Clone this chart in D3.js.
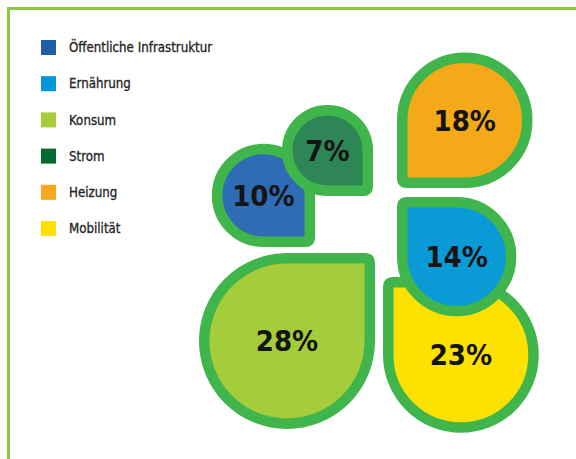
<!DOCTYPE html>
<html>
<head>
<meta charset="utf-8">
<script src="https://cdn.jsdelivr.net/npm/d3@7"></script>
<style>
    body { margin: 0; background: #ffffff; }
    #chart-area { width: 576px; height: 459px; overflow: hidden; }
    .legend-label { font-family: "DejaVu Sans Condensed", "DejaVu Sans", sans-serif; font-size: 13.2px; fill: #262626; stroke: #262626; stroke-width: 0.3px; }
    .drop-label { font-family: "DejaVu Sans Condensed", "DejaVu Sans", sans-serif; font-weight: bold; font-size: 29px; fill: #141414; }
</style>
</head>
<body>
<div id="chart-area"></div>
<script>

// Data
var categories = ["Öffentliche Infrastruktur", "Ernährung", "Konsum", "Strom", "Heizung", "Mobilität"];
var shares = [10, 14, 28, 7, 18, 23];

// order in which the drops are drawn (later ones sit on top)
var drawOrder = ["Öffentliche Infrastruktur", "Strom", "Heizung", "Mobilität", "Ernährung", "Konsum"];

// layout: where each drop puts its square corner, and which way that corner points
var cornerSlots = {
    "Öffentliche Infrastruktur": { x: 315, y: 247, sx: 1, sy: 1 },
    "Strom":                     { x: 373, y: 196, sx: 1, sy: 1 },
    "Heizung":                   { x: 397, y: 188, sx: -1, sy: 1 },
    "Ernährung":                 { x: 397, y: 197, sx: -1, sy: -1 },
    "Konsum":                    { x: 375, y: 253, sx: 1, sy: -1 },
    "Mobilität":                 { x: 383, y: 277, sx: -1, sy: -1 }
};


DropVis = function(_parentElement){
    this.parentElement = _parentElement;
    this.initVis();
}

DropVis.prototype.initVis = function(){
    var vis = this;

    vis.width = 576;
    vis.height = 459;

    vis.svg = d3.select("#" + vis.parentElement).append("svg")
        .attr("width", vis.width)
        .attr("height", vis.height);

    // frame (open towards the right and the bottom)
    vis.svg.append("rect")
        .attr("x", 8.5)
        .attr("y", 8.5)
        .attr("width", 700)
        .attr("height", 600)
        .attr("fill", "none")
        .attr("stroke", "#8dc63f")
        .attr("stroke-width", 3);

    vis.legendColor = d3.scaleOrdinal()
        .domain(categories)
        .range(["#1f5ca9", "#0095d8", "#a5cd39", "#006b35", "#f5a81c", "#ffe000"]);

    vis.fillColor = d3.scaleOrdinal()
        .domain(categories)
        .range(["#2e6cb5", "#0a9bd7", "#a5cc3a", "#2e8555", "#f4aa18", "#fde100"]);

    // outer radius of each drop
    vis.radius = d3.scaleLinear()
        .domain([7, 28])
        .range([45.5, 88]);

    vis.strokeWidth = 10.5;
    vis.cornerRadius = 4;

    vis.wrangleData();
}

DropVis.prototype.wrangleData = function(){
    var vis = this;

    var byName = {};
    categories.forEach(function(c, i){ byName[c] = shares[i]; });

    vis.displayData = drawOrder.map(function(name){
        var slot = cornerSlots[name];
        var half = vis.strokeWidth / 2;
        var r = vis.radius(byName[name]) - half;
        // corner of the path (mid stroke)
        var px = slot.x - slot.sx * half;
        var py = slot.y - slot.sy * half;
        return {
            name: name,
            value: byName[name],
            r: r,
            sx: slot.sx,
            sy: slot.sy,
            cx: px - slot.sx * r,
            cy: py - slot.sy * r
        };
    });

    vis.updateVis();
}

DropVis.prototype.updateVis = function(){
    var vis = this;

    // legend
    var legend = vis.svg.append("g").attr("class", "legend")
        .selectAll("g")
        .data(categories)
        .enter().append("g")
        .attr("transform", function(d, i){ return "translate(41," + (40 + i * 36.2) + ")"; });

    legend.append("rect")
        .attr("width", 15)
        .attr("height", 15)
        .attr("fill", function(d){ return vis.legendColor(d); });

    legend.append("text")
        .attr("class", "legend-label")
        .attr("x", 28)
        .attr("y", 7.5)
        .attr("dy", "0.36em")
        .text(function(d){ return d; });

    // drops
    var drops = vis.svg.append("g").attr("class", "drops")
        .selectAll("g")
        .data(vis.displayData)
        .enter().append("g");

    drops.append("path")
        .attr("d", dropPath)
        .attr("fill", function(d){ return vis.fillColor(d.name); })
        .attr("stroke", "#3fb54b")
        .attr("stroke-width", vis.strokeWidth)
        .attr("stroke-linejoin", "round");

    drops.append("text")
        .attr("class", "drop-label")
        .attr("x", function(d){ return d.cx; })
        .attr("y", function(d){ return d.cy; })
        .attr("dy", "0.36em")
        .attr("text-anchor", "middle")
        .text(function(d){ return d.value + "%"; });

    // circle with one square quadrant
    function dropPath(d){
        var r = d.r, q = vis.cornerRadius;
        var kx = d.cx + d.sx * r, ky = d.cy + d.sy * r;
        var sweep = (d.sx * d.sy > 0) ? 1 : 0;
        var p = d3.path();
        p.moveTo(kx, d.cy);
        p.lineTo(kx, ky - d.sy * q);
        p.quadraticCurveTo(kx, ky, kx - d.sx * q, ky);
        p.lineTo(d.cx, ky);
        var s = p.toString();
        s += "A" + r + "," + r + " 0 1 " + sweep + " " + kx + "," + d.cy + "Z";
        return s;
    }
}

var dropVis = new DropVis("chart-area");

</script>
</body>
</html>
